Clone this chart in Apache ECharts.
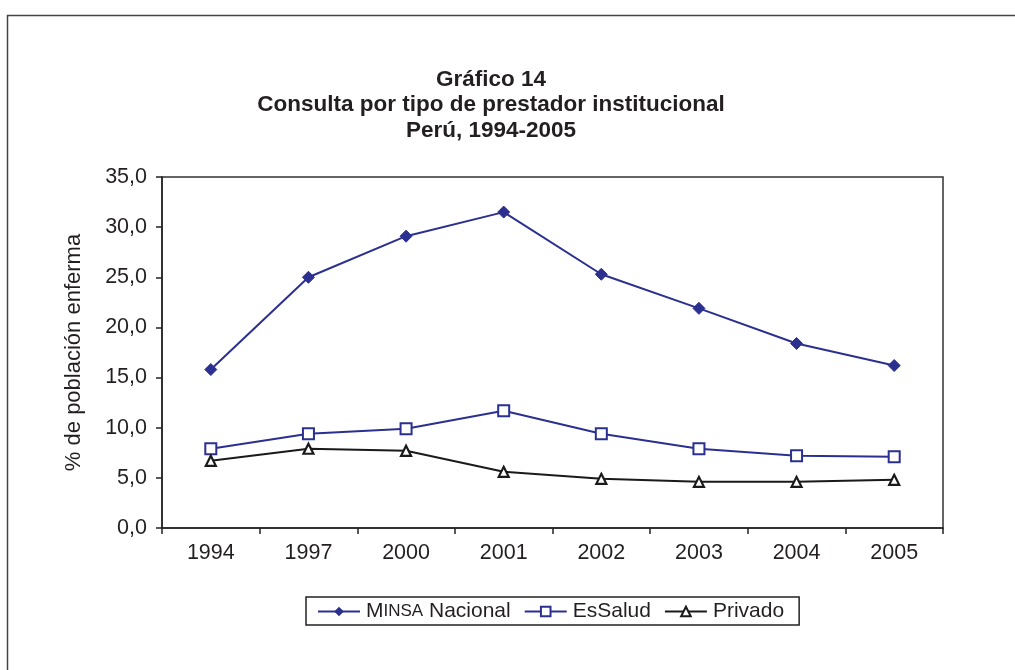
<!DOCTYPE html>
<html><head><meta charset="utf-8">
<script src="https://cdn.jsdelivr.net/npm/echarts@6/dist/echarts.min.js"></script>
<style>html,body{margin:0;padding:0;background:#fff}#c{width:1015px;height:670px}</style>
</head><body><div id="c"></div>
<script>
const categories = ['1994','1997','2000','2001','2002','2003','2004','2005'];
const minsa = [15.8, 25.0, 29.1, 31.5, 25.3, 21.9, 18.4, 16.2];
const essalud = [7.9, 9.4, 9.9, 11.7, 9.4, 7.9, 7.2, 7.1];
const privado = [6.7, 7.9, 7.7, 5.6, 4.9, 4.6, 4.6, 4.8];
const seriesNames = ['MINSA Nacional', 'EsSalud', 'Privado'];
const titleText = 'Gráfico 14\nConsulta por tipo de prestador institucional\nPerú, 1994-2005';
const yAxisName = '% de población enferma';

const FONT = '"Liberation Sans", Arial, Helvetica, sans-serif';
const BLUE = '#2b3090';
const DARK = '#231f20';
const FS = 21.5;
const chart = echarts.init(document.getElementById('c'), null, {renderer: 'canvas'});
chart.setOption({
  backgroundColor: '#fff',
  animation: false,
  textStyle: {fontFamily: FONT, color: DARK},
  graphic: [{
    type: 'rect', shape: {x: 7.5, y: 15.5, width: 1100, height: 800},
    style: {fill: 'none', stroke: '#444', lineWidth: 1.5}, z: -1
  }],
  title: {
    text: titleText, left: 486, top: 62, textAlign: 'center',
    textStyle: {fontFamily: FONT, fontSize: 22.5, fontWeight: 'bold', color: DARK, lineHeight: 25.5}
  },
  grid: {left: 162, right: 72, top: 177, bottom: 142, show: true, borderColor: '#333', borderWidth: 1.5, containLabel: false},
  legend: {
    top: 597, left: 306,
    data: seriesNames,
    borderColor: '#222', borderWidth: 1.5, padding: [4, 15, 3, 11],
    itemWidth: 42, itemHeight: 12, itemGap: 13,
    formatter: function (n) { return n === 'MINSA Nacional' ? '{a|M}{b|INSA} Nacional' : n; },
    textStyle: {fontFamily: FONT, fontSize: 21, color: DARK, padding: [0, 0, 0, 1],
      rich: {a: {fontFamily: FONT, fontSize: 21, color: DARK}, b: {fontFamily: FONT, fontSize: 17, color: DARK}}}
  },
  xAxis: {
    type: 'category', data: categories, boundaryGap: true,
    axisLine: {show: true, lineStyle: {color: '#222', width: 1.5}},
    axisTick: {show: true, length: 6, lineStyle: {color: '#222', width: 1.5}},
    axisLabel: {fontFamily: FONT, fontSize: FS, color: DARK, margin: 14},
    splitLine: {show: false}
  },
  yAxis: {
    type: 'value', min: 0, max: 35, interval: 5,
    name: yAxisName, nameLocation: 'middle', nameRotate: 90, nameGap: 77,
    nameTextStyle: {fontFamily: FONT, fontSize: 22, color: DARK},
    axisLine: {show: true, lineStyle: {color: '#222', width: 1.5}},
    axisTick: {show: true, length: 6, lineStyle: {color: '#222', width: 1.5}},
    axisLabel: {fontFamily: FONT, fontSize: FS, color: DARK, margin: 15,
      formatter: v => v.toFixed(1).replace('.', ',')},
    splitLine: {show: false}
  },
  series: [
    {name: seriesNames[0], type: 'line', data: minsa, symbol: 'diamond', symbolSize: 12,
     lineStyle: {color: BLUE, width: 2}, itemStyle: {color: BLUE, borderColor: BLUE}},
    {name: seriesNames[1], type: 'line', data: essalud, symbol: 'rect', symbolSize: 11,
     lineStyle: {color: BLUE, width: 2}, itemStyle: {color: '#fff', borderColor: BLUE, borderWidth: 2}},
    {name: seriesNames[2], type: 'line', data: privado, symbol: 'triangle', symbolSize: 10,
     lineStyle: {color: '#1a1a1a', width: 2}, itemStyle: {color: '#fff', borderColor: '#1a1a1a', borderWidth: 2.2}}
  ]
});
</script></body></html>
